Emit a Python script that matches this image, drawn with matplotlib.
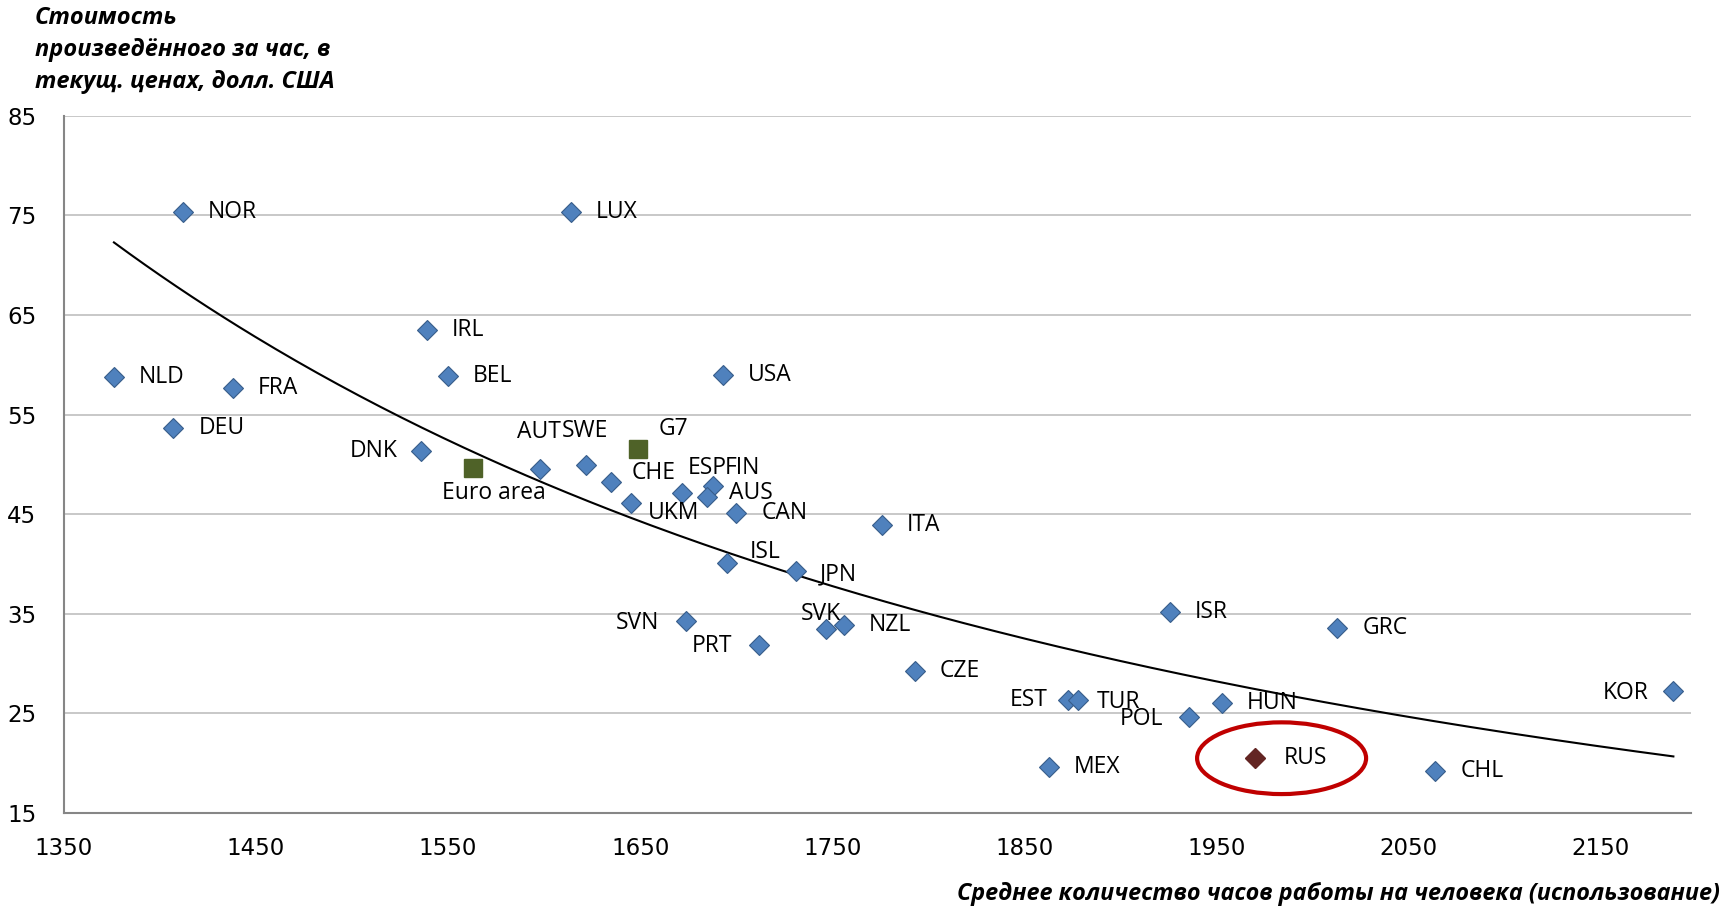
import numpy as np
import matplotlib.pyplot as plt
from matplotlib.patches import Ellipse

# hours worked per person vs GDP per hour
countries = ['NOR', 'LUX', 'IRL', 'NLD', 'FRA', 'BEL', 'USA', 'DEU', 'DNK',
             'AUT', 'SWE', 'CHE', 'ESP', 'FIN', 'AUS', 'CAN', 'UKM', 'ITA',
             'ISL', 'JPN', 'SVN', 'PRT', 'SVK', 'NZL', 'CZE', 'EST', 'TUR',
             'POL', 'HUN', 'MEX', 'ISR', 'GRC', 'CHL', 'KOR']
hours = [1412, 1614, 1539, 1376, 1438, 1550, 1693, 1407, 1536,
         1598, 1622, 1635, 1672, 1688, 1685, 1700, 1645, 1776,
         1695, 1731, 1674, 1712, 1747, 1756, 1793, 1873, 1878,
         1936, 1953, 1863, 1926, 2013, 2064, 2188]
gdp_hour = [75.3, 75.3, 63.5, 58.8, 57.7, 58.9, 59.0, 53.6, 51.3,
            49.5, 49.9, 48.2, 47.1, 47.8, 46.7, 45.1, 46.1, 43.9,
            40.1, 39.3, 34.3, 31.9, 33.5, 33.9, 29.3, 26.3, 26.3,
            24.6, 26.0, 19.6, 35.2, 33.6, 19.2, 27.2]

groups = ['G7', 'Euro area']
groups_hours = [1649, 1563]
groups_gdp = [51.5, 49.6]

rus_hours = 1970
rus_gdp = 20.5

# label placement (offset in pixels, ha)
lab_pos = {
    'DNK': (-24, 0, 'right'), 'AUT': (-1, 37, 'center'), 'SWE': (-1, 34, 'center'),
    'CHE': (20, 9, 'left'), 'ESP': (5, 25, 'left'), 'FIN': (12, 18, 'left'),
    'AUS': (22, 4, 'left'), 'UKM': (17, -10, 'left'), 'ISL': (23, 11, 'left'),
    'JPN': (24, -3, 'left'), 'SVN': (-27, -2, 'right'), 'PRT': (-27, -1, 'right'),
    'SVK': (-6, 15, 'center'), 'EST': (-21, 0, 'right'), 'TUR': (19, -2, 'left'),
    'POL': (-26, -2, 'right'), 'KOR': (-25, -2, 'right'),
}

lab_font = ['Open Sans', 'DejaVu Sans']
tick_font = ['Liberation Sans Narrow', 'DejaVu Sans']
fs = 16.5

fig = plt.figure(figsize=(17.27, 9.09), dpi=100)
ax = fig.add_axes([0.03706, 0.1056, 0.9419, 0.7672])

# power trend line over the country points (Russia is not in the fit)
h_arr = np.array(hours, dtype=float)
g_arr = np.array(gdp_hour, dtype=float)
b, loga = np.polyfit(np.log(h_arr), np.log(g_arr), 1)
tx = np.linspace(h_arr.min(), h_arr.max(), 300)
ax.plot(tx, np.exp(loga) * tx ** b, color='black', lw=1.5, zorder=2)

ax.plot(hours, gdp_hour, ls='none', marker='D', ms=10.5, mfc='#4F81BD',
        mec='#385D8A', mew=0.8, zorder=3)
ax.plot(groups_hours, groups_gdp, ls='none', marker='s', ms=13, mfc='#4F6228',
        mec='#4F6228', zorder=3)
ax.plot([rus_hours], [rus_gdp], ls='none', marker='D', ms=10.5, mfc='#632523',
        mec='#632523', zorder=3)

for c, h, g in zip(countries, hours, gdp_hour):
    dx, dy, ha = lab_pos.get(c, (25, 0, 'left'))
    ax.annotate(c, (h, g), xytext=(dx, dy), textcoords='offset pixels',
                ha=ha, va='center', fontsize=fs, family=lab_font)

ax.annotate('G7', (groups_hours[0], groups_gdp[0]), xytext=(20, 20),
            textcoords='offset pixels', ha='left', va='center', fontsize=fs, family=lab_font)
ax.annotate('Euro area', (groups_hours[1], groups_gdp[1]), xytext=(21, -25),
            textcoords='offset pixels', ha='center', va='center', fontsize=fs, family=lab_font)
ax.annotate('RUS', (rus_hours, rus_gdp), xytext=(29, 0),
            textcoords='offset pixels', ha='left', va='center', fontsize=fs, family=lab_font)

ax.add_patch(Ellipse((1984, 20.5), 88, 7.2, fill=False, ec='#C00000', lw=3, zorder=4))

ax.set_xlim(1350, 2197)
ax.set_ylim(15, 85)
ax.set_xticks(np.arange(1350, 2151, 100))
ax.set_yticks(np.arange(15, 86, 10))
ax.grid(axis='y', color='#BFBFBF', lw=1.2)
ax.set_axisbelow(True)
for s in ['top', 'right']:
    ax.spines[s].set_visible(False)
for s in ['left', 'bottom']:
    ax.spines[s].set_color('#868686')
    ax.spines[s].set_linewidth(1.5)
ax.tick_params(length=0)
ax.tick_params(axis='y', pad=20)
ax.tick_params(axis='x', pad=17)
for t in ax.get_xticklabels() + ax.get_yticklabels():
    t.set_fontfamily(tick_font)
    t.set_fontsize(fs)

fig.text(35 / 1727, 1 - 6 / 909, 'Стоимость\nпроизведённого за час, в\nтекущ. ценах, долл. США',
         ha='left', va='top', fontsize=17, fontweight='bold', fontstyle='italic',
         family=lab_font, linespacing=1.45)
fig.text(1720 / 1727, 1 - 894 / 909, 'Среднее количество часов работы на человека (использование)',
         ha='right', va='center', fontsize=16.8, fontweight='bold', fontstyle='italic',
         family=lab_font)

plt.savefig('out.png', dpi=100)
